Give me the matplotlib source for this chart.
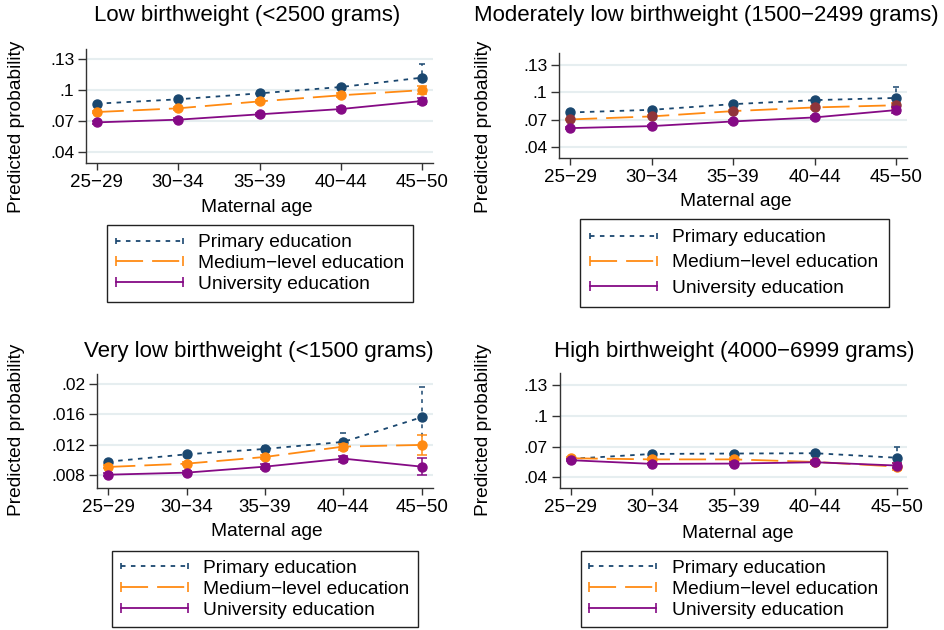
import numpy as np
import matplotlib
matplotlib.use("Agg")
import matplotlib.pyplot as plt
from matplotlib.lines import Line2D
from matplotlib.legend_handler import HandlerLine2D

plt.rcParams['font.family'] = ['Liberation Sans', 'DejaVu Sans']

# --------------------------------------------------------------------
# Data (predicted probabilities and 95% CI)
# --------------------------------------------------------------------
age_groups = ["25\u221229", "30\u221234", "35\u221239", "40\u221244", "45\u221250"]
series_names = ["Primary education", "Medium\u2212level education", "University education"]

panel_titles = [
    "Low birthweight (<2500 grams)",
    "Moderately low birthweight (1500\u22122499 grams)",
    "Very low birthweight (<1500 grams)",
    "High birthweight (4000\u22126999 grams)",
]

# Low birthweight
low_primary = [0.0871, 0.0913, 0.0971, 0.1032, 0.1123]
low_primary_lo = [0.0858, 0.0899, 0.0955, 0.1010, 0.0990]
low_primary_hi = [0.0884, 0.0927, 0.0987, 0.1054, 0.1256]
low_medium = [0.0790, 0.0826, 0.0893, 0.0952, 0.1002]
low_medium_lo = [0.0778, 0.0814, 0.0878, 0.0932, 0.0965]
low_medium_hi = [0.0802, 0.0838, 0.0908, 0.0972, 0.1039]
low_univ = [0.0690, 0.0716, 0.0768, 0.0819, 0.0897]
low_univ_lo = [0.0678, 0.0704, 0.0753, 0.0799, 0.0865]
low_univ_hi = [0.0702, 0.0728, 0.0783, 0.0839, 0.0929]

# Moderately low birthweight
mod_primary = [0.0781, 0.0810, 0.0872, 0.0916, 0.0940]
mod_primary_lo = [0.0769, 0.0797, 0.0856, 0.0895, 0.0815]
mod_primary_hi = [0.0793, 0.0823, 0.0888, 0.0937, 0.1065]
mod_medium = [0.0705, 0.0738, 0.0796, 0.0836, 0.0860]
mod_medium_lo = [0.0695, 0.0727, 0.0781, 0.0818, 0.0830]
mod_medium_hi = [0.0715, 0.0749, 0.0811, 0.0854, 0.0890]
mod_univ = [0.0610, 0.0632, 0.0683, 0.0727, 0.0807]
mod_univ_lo = [0.0600, 0.0621, 0.0668, 0.0709, 0.0777]
mod_univ_hi = [0.0620, 0.0643, 0.0698, 0.0745, 0.0837]

# Very low birthweight
vlow_primary = [0.00976, 0.01073, 0.01144, 0.01237, 0.01563]
vlow_primary_lo = [0.00950, 0.01040, 0.01105, 0.01130, 0.01190]
vlow_primary_hi = [0.01002, 0.01106, 0.01183, 0.01355, 0.01965]
vlow_medium = [0.00906, 0.00950, 0.01038, 0.01175, 0.01197]
vlow_medium_lo = [0.00886, 0.00930, 0.01008, 0.01135, 0.01067]
vlow_medium_hi = [0.00926, 0.00970, 0.01068, 0.01215, 0.01327]
vlow_univ = [0.00804, 0.00831, 0.00910, 0.01016, 0.00910]
vlow_univ_lo = [0.00784, 0.00811, 0.00880, 0.00976, 0.00800]
vlow_univ_hi = [0.00824, 0.00851, 0.00940, 0.01056, 0.01020]

# High birthweight
high_primary = [0.0580, 0.0628, 0.0632, 0.0635, 0.0591]
high_primary_lo = [0.0568, 0.0613, 0.0615, 0.0612, 0.0490]
high_primary_hi = [0.0592, 0.0643, 0.0649, 0.0658, 0.0694]
high_medium = [0.0586, 0.0575, 0.0575, 0.0550, 0.0505]
high_medium_lo = [0.0578, 0.0566, 0.0563, 0.0533, 0.0472]
high_medium_hi = [0.0594, 0.0584, 0.0587, 0.0567, 0.0538]
high_univ = [0.0567, 0.0531, 0.0534, 0.0547, 0.0515]
high_univ_lo = [0.0559, 0.0522, 0.0522, 0.0530, 0.0487]
high_univ_hi = [0.0575, 0.0540, 0.0546, 0.0564, 0.0543]

panel_data = [
    [(low_primary, low_primary_lo, low_primary_hi),
     (low_medium, low_medium_lo, low_medium_hi),
     (low_univ, low_univ_lo, low_univ_hi)],
    [(mod_primary, mod_primary_lo, mod_primary_hi),
     (mod_medium, mod_medium_lo, mod_medium_hi),
     (mod_univ, mod_univ_lo, mod_univ_hi)],
    [(vlow_primary, vlow_primary_lo, vlow_primary_hi),
     (vlow_medium, vlow_medium_lo, vlow_medium_hi),
     (vlow_univ, vlow_univ_lo, vlow_univ_hi)],
    [(high_primary, high_primary_lo, high_primary_hi),
     (high_medium, high_medium_lo, high_medium_hi),
     (high_univ, high_univ_lo, high_univ_hi)],
]

yticks_main = [0.04, 0.07, 0.10, 0.13]
yticklabels_main = [".04", ".07", ".1", ".13"]
yticks_vlow = [0.008, 0.012, 0.016, 0.020]
yticklabels_vlow = [".008", ".012", ".016", ".02"]

# --------------------------------------------------------------------
# Styles / layout (pixel boxes: left, right, top, bottom)
# --------------------------------------------------------------------
W, H = 944, 630
NAVY = "#1a476f"
ORANGE = "#ff8a12"
PURPLE = "#850a85"
MAROON = "#90353b"
GRID = "#e6eef0"

line_colors = [NAVY, ORANGE, PURPLE]
line_styles = [(0, (2.5, 3.0)), (0, (15, 5)), "-"]
cap_sizes = [2.5, 3.8, 3.8]
medium_marker_colors = [ORANGE, MAROON, ORANGE, ORANGE]

axes_px = [
    (86, 433, 49.3, 163.3),
    (559.3, 907, 53.3, 158.3),
    (97, 433, 374.3, 488.3),
    (559.5, 907.3, 373.3, 487.7),
]
ylims = [(0.0294, 0.1397), (0.0280, 0.1428), (0.00624, 0.0213), (0.0299, 0.1414)]
xlims = [(-0.132, 4.132), (-0.132, 4.135), (-0.144, 4.144), (-0.137, 4.13)]
title_px = [(246.7, 15), (706, 15), (259, 352), (734, 352)]
ylabel_px = [(16.7, 126.7), (484, 127), (16.7, 430), (483, 430)]
xlabel_px = [(256.7, 208), (735.8, 201.7), (267, 531.7), (738, 533)]
# left, top, labelspacing, borderpad
legend_px = [(106.7, 225, 0.18, 0.46), (580, 219, 0.4, 0.52),
             (112, 551, 0.18, 0.45), (580.7, 551, 0.18, 0.45)]


def fx(x):
    return x / W


def fy(y):
    return 1 - y / H


fig = plt.figure(figsize=(W / 100, H / 100), dpi=100)

for p in range(4):
    l, r, t, b = axes_px[p]
    ax = fig.add_axes([fx(l), fy(b), (r - l) / W, (b - t) / H])
    x = np.arange(len(age_groups))

    for s, (est, lo, hi) in enumerate(panel_data[p]):
        est = np.array(est)
        lo = np.array(lo)
        hi = np.array(hi)
        col = line_colors[s]
        eb = ax.errorbar(x, est, yerr=[est - lo, hi - est], fmt="none",
                         ecolor=col, elinewidth=1.1, capsize=cap_sizes[s],
                         capthick=1.1, zorder=2 + s)
        if s == 0:
            eb[2][0].set_linestyle((0, (2.5, 3.0)))
        mcol = medium_marker_colors[p] if s == 1 else col
        ax.plot(x, est, color=col, linestyle=line_styles[s], linewidth=1.3,
                marker="o", markersize=6.5, markerfacecolor=mcol,
                markeredgecolor=mcol, zorder=3 + s)

    if p == 2:
        ax.set_yticks(yticks_vlow)
        ax.set_yticklabels(yticklabels_vlow)
    else:
        ax.set_yticks(yticks_main)
        ax.set_yticklabels(yticklabels_main)
    ax.set_ylim(*ylims[p])
    ax.set_xlim(*xlims[p])
    ax.set_xticks(x)
    ax.set_xticklabels(age_groups)

    ax.grid(axis="y", color=GRID, linewidth=1.5, zorder=0)
    ax.set_axisbelow(True)
    for side in ["top", "right"]:
        ax.spines[side].set_visible(False)
    for side in ["left", "bottom"]:
        ax.spines[side].set_color("#333333")
        ax.spines[side].set_linewidth(1.0)
    ax.tick_params(axis="y", labelsize=12.5, length=5.5, width=1.0,
                   color="#333333", pad=3)
    ax.tick_params(axis="x", labelsize=13.5, length=5.0, width=1.0,
                   color="#333333", pad=3)

    fig.text(fx(title_px[p][0]), fy(title_px[p][1]), panel_titles[p],
             ha="center", va="center", fontsize=16)
    fig.text(fx(ylabel_px[p][0]), fy(ylabel_px[p][1]), "Predicted probability",
             ha="center", va="center", rotation=90, fontsize=13.8)
    fig.text(fx(xlabel_px[p][0]), fy(xlabel_px[p][1]), "Maternal age",
             ha="center", va="center", fontsize=13.8)

    handles = []
    for s in range(3):
        handles.append(Line2D([], [], color=line_colors[s],
                              linestyle=line_styles[s], linewidth=1.3,
                              marker="|", markersize=7 if s else 5,
                              markeredgewidth=1.2))
    lx, ly, lsp, bpad = legend_px[p]
    leg = fig.legend(handles, series_names, loc="upper left",
                     bbox_to_anchor=(fx(lx), fy(ly)),
                     bbox_transform=fig.transFigure,
                     fontsize=13.8, frameon=True, fancybox=False,
                     edgecolor="#222222", framealpha=1, borderpad=bpad,
                     borderaxespad=0, handlelength=3.5, handletextpad=0.8,
                     labelspacing=lsp,
                     handler_map={Line2D: HandlerLine2D(numpoints=2, marker_pad=0)})
    leg.get_frame().set_linewidth(1.0)

fig.savefig("out.png", dpi=100)
